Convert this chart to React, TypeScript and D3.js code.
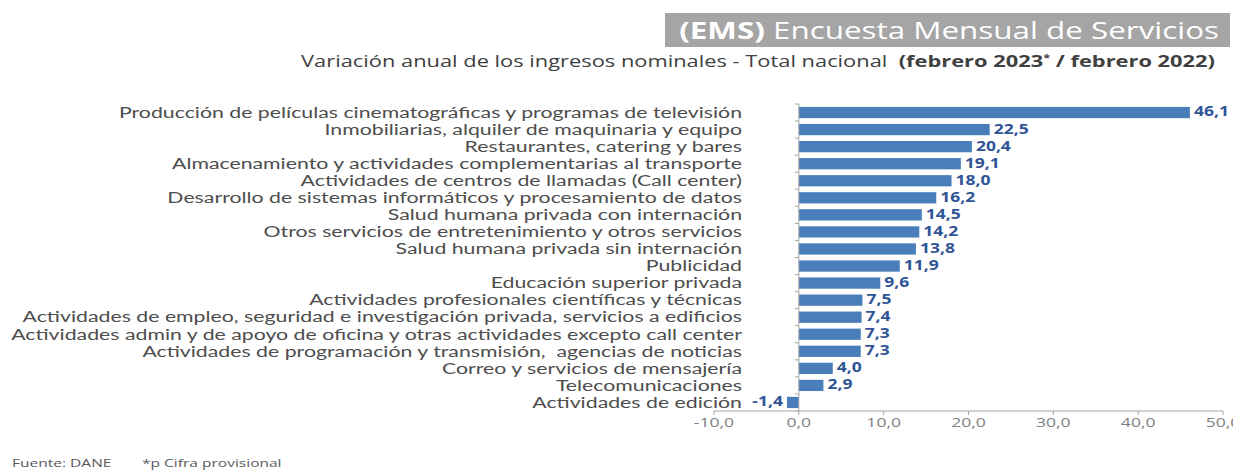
import React from "react";
import * as d3 from "d3";

const categories: string[] = [
  "Producción de películas cinematográficas y programas de televisión",
  "Inmobiliarias, alquiler de maquinaria y equipo",
  "Restaurantes, catering y bares",
  "Almacenamiento y actividades complementarias al transporte",
  "Actividades de centros de llamadas (Call center)",
  "Desarrollo de sistemas informáticos y procesamiento de datos",
  "Salud humana privada con internación",
  "Otros servicios de entretenimiento y otros servicios",
  "Salud humana privada sin internación",
  "Publicidad",
  "Educación superior privada",
  "Actividades profesionales científicas y técnicas",
  "Actividades de empleo, seguridad e investigación privada, servicios a edificios",
  "Actividades admin y de apoyo de oficina y otras actividades excepto call center",
  "Actividades de programación y transmisión,  agencias de noticias",
  "Correo y servicios de mensajería",
  "Telecomunicaciones",
  "Actividades de edición",
];

const values: number[] = [46.1, 22.5, 20.4, 19.1, 18.0, 16.2, 14.5, 14.2, 13.8, 11.9, 9.6, 7.5, 7.4, 7.3, 7.3, 4.0, 2.9, -1.4];

const xTicks: number[] = [-10, 0, 10, 20, 30, 40, 50];

const fmt = (v: number) => v.toFixed(1).replace(".", ",");

function SText(props: {
  x: number;
  y: number;
  sx: number;
  anchor?: "start" | "middle" | "end";
  fill: string;
  family: string;
  size: number;
  weight?: string;
  dy?: string;
  children: React.ReactNode;
}) {
  return (
    <g transform={`translate(${props.x},${props.y}) scale(${props.sx},1)`}>
      <text
        x={0}
        y={0}
        dy={props.dy}
        textAnchor={props.anchor || "start"}
        fill={props.fill}
        fontFamily={props.family}
        fontSize={props.size}
        fontWeight={props.weight}
        style={{ whiteSpace: "pre" }}
      >
        {props.children}
      </text>
    </g>
  );
}

export default function App() {
  const W = 1233;
  const H = 470;
  const x = d3.scaleLinear().domain([-10, 50]).range([714, 1223]);
  const y = d3.scaleBand<number>().domain(d3.range(categories.length)).range([104, 411]).paddingInner(0.34).paddingOuter(0.17);
  const x0 = x(0);
  const bandStep = y.step();
  const font = "'Open Sans', sans-serif";
  const labelFont = "Lato, sans-serif";

  return (
    <svg width={W} height={H} style={{ position: "absolute", left: 0, top: 0, background: "#fff" }}>
      {/* Title box */}
      <rect x={665} y={13} width={565} height={34} fill="#a5a5a5" />
      <SText x={1219} y={39} sx={1.365} anchor="end" fill="#fff" family={font} size={23}>
        <tspan fontWeight="bold">(EMS)</tspan>
        <tspan> Encuesta Mensual de Servicios</tspan>
      </SText>
      <SText x={1215} y={67} sx={1.41} anchor="end" fill="#404040" family={font} size={15.5}>
        <tspan>Variación anual de los ingresos nominales - Total nacional  </tspan>
        <tspan fontWeight="bold">(febrero 2023</tspan>
        <tspan fontWeight="bold" fontSize={9} dy={-6}>*</tspan>
        <tspan fontWeight="bold" dy={6}> / febrero 2022)</tspan>
      </SText>

      {/* Bars */}
      {values.map((v, i) => (
        <rect
          key={"b" + i}
          x={Math.min(x(v), x0)}
          y={y(i)!}
          width={Math.abs(x(v) - x0)}
          height={y.bandwidth()}
          fill="#4a7ebb"
        />
      ))}

      {/* vertical axis */}
      <line x1={x0} x2={x0} y1={104} y2={411} stroke="#a6a6a6" strokeWidth={1} />
      {d3.range(categories.length + 1).map((i) => (
        <line key={"yt" + i} x1={x0 - 4} x2={x0} y1={104 + i * bandStep} y2={104 + i * bandStep} stroke="#a6a6a6" />
      ))}

      {/* horizontal axis */}
      <line x1={x(-10)} x2={x(50)} y1={411} y2={411} stroke="#a6a6a6" strokeWidth={1} />
      {xTicks.map((t) => (
        <g key={"xt" + t}>
          <line x1={x(t)} x2={x(t)} y1={411} y2={415} stroke="#a6a6a6" />
          <SText x={x(t)} y={427} sx={1.35} anchor="middle" fill="#7f7f7f" family={font} size={13}>
            {fmt(t)}
          </SText>
        </g>
      ))}

      {/* Category labels */}
      {categories.map((c, i) => (
        <SText
          key={"c" + i}
          x={742}
          y={y(i)! + y.bandwidth() / 2}
          dy="0.33em"
          sx={1.33}
          anchor="end"
          fill="#4d4d4d"
          family={labelFont}
          size={16}
        >
          {c}
        </SText>
      ))}

      {/* Value labels */}
      {values.map((v, i) => (
        <SText
          key={"v" + i}
          x={v >= 0 ? x(v) + 4 : x(v) - 4}
          y={y(i)! + y.bandwidth() / 2}
          dy="0.28em"
          sx={1.25}
          anchor={v >= 0 ? "start" : "end"}
          fill="#2f5597"
          family={font}
          weight="bold"
          size={14}
        >
          {fmt(v)}
        </SText>
      ))}

      {/* Footer */}
      <SText x={12} y={467} sx={1.35} fill="#595959" family={font} size={11.5}>
        Fuente: DANE
      </SText>
      <SText x={142} y={467} sx={1.35} fill="#595959" family={font} size={11.5}>
        *p Cifra provisional
      </SText>
    </svg>
  );
}
